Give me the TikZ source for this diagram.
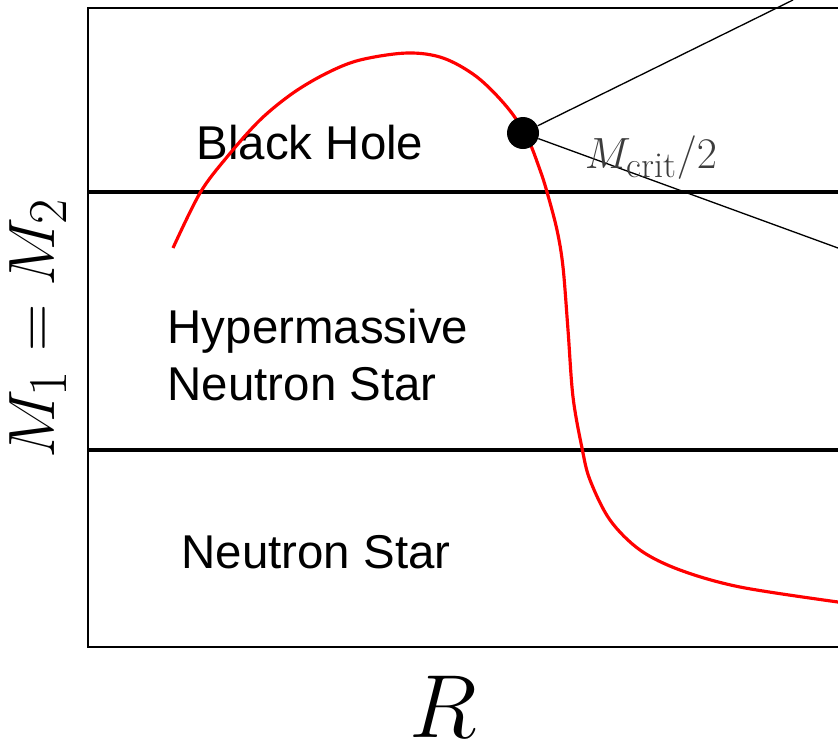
\documentclass[tikz,border=0pt]{standalone}
\usepackage{fontspec}
\newfontfamily\labelfont{Liberation Sans}
\usetikzlibrary{positioning}
\definecolor{curveRed}{RGB}{255,0,0}
\definecolor{labelInk}{RGB}{60,60,60}
\tikzset{
  region/.style={font=\labelfont\fontsize{27}{32}\selectfont, align=left, inner sep=0pt},
  axislabel/.style={font=\Huge, inner sep=0pt},
  frame/.style={draw=black, line width=0.85pt},
  divider/.style={draw=black, line width=1.9pt},
  ray/.style={draw=black, line width=0.75pt},
  massline/.style={draw=curveRed, line width=1.8pt},
  critdot/.style={circle, fill=black, minimum size=0.64cm, inner sep=0pt}
}
\begin{document}
\begin{tikzpicture}[x=0.02cm, y=-0.02cm]
        \useasboundingbox (0,0) rectangle (838,755);
        \clip (0,0) rectangle (838,755);
        \draw[frame] (88,8) rectangle (860,647);
        \draw[divider] (88,192) -- (860,192);
        \draw[divider] (88,450) -- (860,450);
        \node[region] (bh) at (310,143) {Black Hole};
        \node[region] (hmns) at (318,355) {Hypermassive\\Neutron Star};
        \node[region] (ns) at (316,552) {Neutron Star};
        \draw[massline] plot[smooth, tension=0.55] coordinates {(173,248) (200,193) (227,157) (260,120) (293,93) (327,73) (360,60) (407,53) (443,58) (477,77) (507,107) (527,137) (540,170) (547,192) (557,230) (563,267) (568,330) (573,397) (582,448) (590,480) (610,520) (640,550) (680,570) (740,587) (838,602)};
        \node[critdot] (crit) at (523,133) {};
        \coordinate (rayup) at (793,0);
        \coordinate (raydown) at (838,248);
        \draw[ray] (crit) -- (rayup);
        \draw[ray] (crit) -- (raydown);
        \node[axislabel, text=labelInk] (mcrit) at (651,158) {$M_{\mathrm{crit}}/2$};
        \node[axislabel, scale=1.5, rotate=90] (ylab) at (38,328) {$M_1 = M_2$};
        \node[axislabel, scale=2.05] (xlab) at (443,707) {$R$};
      \end{tikzpicture}
\end{document}
